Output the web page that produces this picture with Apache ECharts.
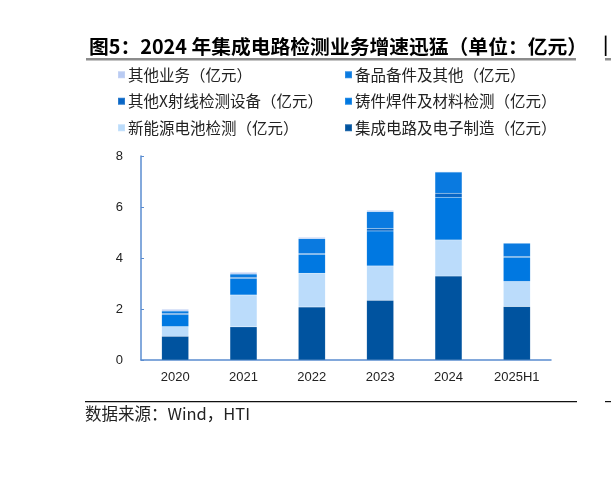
<!DOCTYPE html>
<html><head><meta charset="utf-8">
<script src="https://cdn.jsdelivr.net/npm/echarts@6/dist/echarts.min.js"></script>
<style>html,body{margin:0;padding:0;background:#fff;}#c{width:611px;height:490px;}</style>
</head><body><div id="c"></div>
<script>
var categories = ['2020','2021','2022','2023','2024','2025H1'];
var icData      = [0.93, 1.30, 2.08, 2.34, 3.29, 2.10];
var batteryData = [0.38, 1.25, 1.32, 1.35, 1.42, 0.98];
var castingData = [0.47, 0.65, 0.74, 1.37, 1.67, 0.95];
var xrayData    = [0.04, 0.04, 0.03, 0.10, 0.16, 0.03];
var spareData   = [0.10, 0.13, 0.59, 0.66, 0.83, 0.52];
var otherData   = [0.07, 0.07, 0.05, 0.05, 0.02, 0.01];
var yTicks = [0, 2, 4, 6, 8];

var names = ['集成电路及电子制造（亿元）','新能源电池检测（亿元）','铸件焊件及材料检测（亿元）','其他X射线检测设备（亿元）','备品备件及其他（亿元）','其他业务（亿元）'];
var colors = ['#00539f','#bbdcfb','#0078e1','#0866c6','#0a7ae0','#b9cbf3'];
var datas = [icData, batteryData, castingData, xrayData, spareData, otherData];

var cjk = '"Noto Sans CJK SC", sans-serif';
var series = names.map(function(n,i){
  return {name:n,type:'bar',stack:'s',data:datas[i],barWidth:27,
    itemStyle:{color:colors[i],borderColor:'rgba(255,255,255,0.15)',borderWidth:0.4}};
});
var chart = echarts.init(document.getElementById('c'));
var legendCommon = {orient:'vertical',itemWidth:7,itemHeight:7,itemGap:11,icon:'rect',
  textStyle:{fontFamily:cjk,fontSize:15.5,color:'#222',padding:[0,0,0,-2]}};
chart.setOption({
  animation:false,
  color:colors,
  title:{text:'图5：2024 年集成电路检测业务增速迅猛（单位：亿元）',left:84,top:32,
    textStyle:{fontFamily:cjk,fontSize:19.8,fontWeight:'bold',color:'#000'}},
  legend:[
    Object.assign({left:112,top:62,data:[names[5],names[3],names[1]]},legendCommon),
    Object.assign({left:339,top:62,data:[names[4],names[2],names[0]]},legendCommon)
  ],
  grid:{left:141,right:60,top:156,bottom:130},
  xAxis:{type:'category',data:categories,
    axisLine:{lineStyle:{color:'#5a8cd0',width:1.5}},
    axisTick:{inside:true,length:4,lineStyle:{color:'#5a8cd0'}},
    axisLabel:{color:'#222',fontSize:13,fontFamily:'"Liberation Sans", Arial',margin:11}},
  yAxis:{type:'value',min:0,max:8,interval:2,
    axisLine:{show:true,lineStyle:{color:'#5a8cd0',width:1.5}},
    axisTick:{show:true,length:3,inside:true,lineStyle:{color:'#5a8cd0'}},
    splitLine:{show:false},
    axisLabel:{color:'#222',fontSize:13,fontFamily:'"Liberation Sans", Arial',margin:18,
      formatter:function(v){return yTicks.indexOf(v)>=0?String(v):'';}}},
  graphic:[
    {type:'rect',shape:{x:86,y:58,width:490,height:2.5},style:{fill:'#8c8c8c'}},
    {type:'rect',shape:{x:605,y:58,width:6,height:2.5},style:{fill:'#8c8c8c'}},
    {type:'text',left:603,top:35,style:{text:'|',fontSize:18,fontWeight:'bold',fill:'#000',fontFamily:cjk}},
    {type:'rect',shape:{x:85,y:401,width:492,height:1.2},style:{fill:'#111'}},
    {type:'rect',shape:{x:605,y:401,width:6,height:1.2},style:{fill:'#111'}},
    {type:'text',left:85,top:405,style:{text:'数据来源：Wind，HTI',fontSize:16.5,fill:'#222',fontFamily:cjk}}
  ],
  series:series
});
</script></body></html>
